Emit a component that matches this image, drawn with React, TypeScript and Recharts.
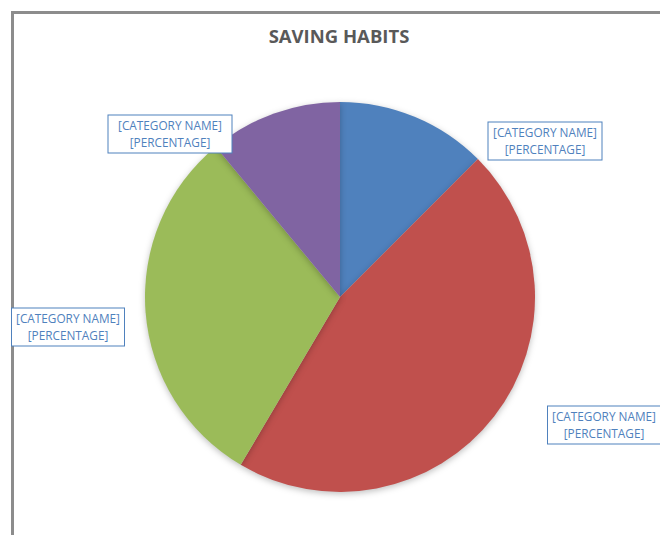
import { PieChart, Pie, Cell } from 'recharts'

const categories = ['Category 1', 'Category 2', 'Category 3', 'Category 4']
const shares = [12.5, 46, 30.5, 11]
const labelNames = ['[CATEGORY NAME]', '[CATEGORY NAME]', '[CATEGORY NAME]', '[CATEGORY  NAME]']
const labelValues = ['[PERCENTAGE]', '[PERCENTAGE]', '[PERCENTAGE]', '[PERCENTAGE]']

const COLORS = ['#4f81bd', '#c0504d', '#9bbb59', '#8064a2']
// label box centre, relative to pie centre
const LABEL_OFFSETS = [
  [205, -156],
  [264, 128],
  [-272, 30],
  [-170, -163],
]
const LABEL_WIDTHS = [114, 113, 113, 124]

const data = categories.map((name, i) => ({ name, value: shares[i] }))

function renderLabel(props: any) {
  const { cx, cy, index } = props
  const [dx, dy] = LABEL_OFFSETS[index]
  const x = cx + dx
  const y = cy + dy
  const w = LABEL_WIDTHS[index]
  const h = 38
  return (
    <g>
      <rect x={x - w / 2} y={y - h / 2} width={w} height={h} fill="#fff" stroke="#4f81bd" strokeWidth={1} />
      <text x={x} y={y - 4} textAnchor="middle" fontSize={11.8} fill="#4f81bd" fontFamily="'Open Sans', sans-serif">
        {labelNames[index]}
      </text>
      <text x={x} y={y + 13} textAnchor="middle" fontSize={11.8} fill="#4f81bd" fontFamily="'Open Sans', sans-serif">
        {labelValues[index]}
      </text>
    </g>
  )
}

export default function App() {
  return (
    <div style={{ position: 'fixed', left: 0, top: 0, width: 660, height: 535, overflow: 'hidden', background: '#fff' }}>
      <style>{`.pie-shadow path { filter: drop-shadow(0 2px 3px rgba(0,0,0,0.25)); }`}</style>
      <div
        style={{
          position: 'absolute',
          left: 11,
          top: 11,
          width: 700,
          height: 600,
          borderLeft: '3px solid #8c8c8c',
          borderTop: '3px solid #8c8c8c',
        }}
      />
      <div
        style={{
          position: 'absolute',
          left: 0,
          top: 23,
          width: 678,
          textAlign: 'center',
          fontFamily: "'Open Sans', sans-serif",
          fontWeight: 700,
          fontSize: 18.5,
          color: '#595959',
        }}
      >
        SAVING HABITS
      </div>
      <div style={{ position: 'absolute', left: 0, top: 0 }}>
        <PieChart width={660} height={535}>
          <Pie
            className="pie-shadow"
            data={data}
            dataKey="value"
            nameKey="name"
            cx={335}
            cy={292}
            outerRadius={195}
            startAngle={90}
            endAngle={-270}
            stroke="none"
            label={renderLabel}
            labelLine={false}
            isAnimationActive={false}
          >
            {data.map((d, i) => (
              <Cell key={d.name} fill={COLORS[i]} />
            ))}
          </Pie>
        </PieChart>
      </div>
    </div>
  )
}
